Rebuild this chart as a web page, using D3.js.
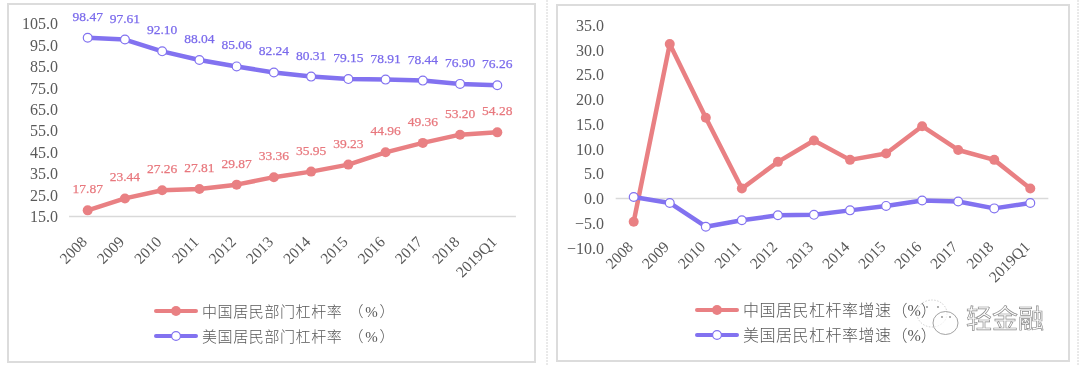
<!DOCTYPE html>
<html>
<head>
<meta charset="utf-8">
<script src="https://cdnjs.cloudflare.com/ajax/libs/d3/7.8.5/d3.min.js"></script>
<style>
html, body { margin: 0; padding: 0; background: #fff; }
svg { display: block; filter: blur(0.35px); }
.serif { font-family: "Liberation Serif", serif; }
.cjk { font-family: "Liberation Serif", "Noto Sans CJK SC", serif; }
</style>
</head>
<body>
<div id="chart"></div>
<script>
const categories = ["2008", "2009", "2010", "2011", "2012", "2013", "2014", "2015", "2016", "2017", "2018", "2019Q1"];

// left panel: leverage
const chinaLeverage = [17.87, 23.44, 27.26, 27.81, 29.87, 33.36, 35.95, 39.23, 44.96, 49.36, 53.20, 54.28];
const usLeverage = [98.47, 97.61, 92.10, 88.04, 85.06, 82.24, 80.31, 79.15, 78.91, 78.44, 76.90, 76.26];
const leverageTicks = [15, 25, 35, 45, 55, 65, 75, 85, 95, 105];

// right panel: growth of leverage
const chinaGrowth = [-4.7, 31.2, 16.3, 2.0, 7.4, 11.7, 7.8, 9.1, 14.6, 9.8, 7.8, 2.0];
const usGrowth = [0.3, -0.9, -5.7, -4.4, -3.4, -3.3, -2.4, -1.5, -0.4, -0.6, -2.0, -0.9];
const growthTicks = [-10, -5, 0, 5, 10, 15, 20, 25, 30, 35];

const legendLeft = ["中国居民部门杠杆率", "美国居民部门杠杆率"];
const legendRight = ["中国居民杠杆率增速", "美国居民杠杆率增速"];
const legendUnit = "（%）";

const RED = "#e98083";
const PURPLE = "#8272f0";
const RED_TEXT = "#e8787e";
const PURPLE_TEXT = "#7a6aec";
const GREY = "#595959";

const svg = d3.select("#chart").append("svg")
    .attr("width", 1080)
    .attr("height", 366);

svg.append("rect").attr("width", 1080).attr("height", 366).attr("fill", "#fff");

// dotted separators between the two pasted pictures
[547, 1078].forEach(function(x) {
    svg.append("line")
        .attr("x1", x).attr("x2", x)
        .attr("y1", 0).attr("y2", 366)
        .attr("stroke", "#d4d4d4")
        .attr("stroke-dasharray", "2,1");
});

function drawPanel(o) {
    const g = svg.append("g");

    g.append("rect")
        .attr("x", o.frame[0]).attr("y", o.frame[1])
        .attr("width", o.frame[2]).attr("height", o.frame[3])
        .attr("fill", "#fff")
        .attr("stroke", "#dcdcdc")
        .attr("stroke-width", 2);

    const x = d3.scalePoint()
        .domain(categories)
        .range(o.xRange);
    const step = x.step();

    const y = d3.scaleLinear()
        .domain(d3.extent(o.ticks))
        .range(o.yRange);

    // y axis, labels only
    const yAxis = d3.axisLeft(y)
        .tickValues(o.ticks)
        .tickFormat(d3.format(".1f"))
        .tickSize(0)
        .tickPadding(0);
    g.append("g")
        .attr("class", "serif")
        .attr("transform", "translate(" + o.yLabelX + ",0)")
        .call(yAxis)
        .call(function(a) { a.select(".domain").remove(); })
        .selectAll("text")
        .attr("fill", GREY)
        .style("font-size", "16px");

    // x axis sits on baseValue, labels hang at a fixed height
    g.append("line")
        .attr("x1", o.xRange[0] - step / 2)
        .attr("x2", o.xRange[1] + step / 2)
        .attr("y1", y(o.baseValue))
        .attr("y2", y(o.baseValue))
        .attr("stroke", "#d9d9d9")
        .attr("stroke-width", 1.5);

    const xAxis = d3.axisBottom(x).tickSize(0).tickPadding(0);
    g.append("g")
        .attr("class", "serif")
        .attr("transform", "translate(0," + o.xLabelY + ")")
        .call(xAxis)
        .call(function(a) { a.select(".domain").remove(); })
        .selectAll("text")
        .attr("fill", GREY)
        .style("font-size", "15.5px")
        .attr("text-anchor", "end")
        .attr("dy", "0.35em")
        .attr("transform", "translate(-4,0) rotate(-45)");

    const line = d3.line()
        .x(function(d, i) { return x(categories[i]); })
        .y(function(d) { return y(d); });

    o.series.forEach(function(s) {
        g.append("path")
            .datum(s.values)
            .attr("d", line)
            .attr("fill", "none")
            .attr("stroke", s.color)
            .attr("stroke-width", 4.5)
            .attr("stroke-linejoin", "round")
            .attr("stroke-linecap", "round");

        g.selectAll(null)
            .data(s.values)
            .enter()
            .append("circle")
            .attr("cx", function(d, i) { return x(categories[i]); })
            .attr("cy", function(d) { return y(d); })
            .attr("r", s.hollow ? 4.4 : 5)
            .attr("fill", s.hollow ? "#fff" : s.color)
            .attr("stroke", s.hollow ? s.color : "none")
            .attr("stroke-width", 1.2);

        if (s.labels) {
            g.selectAll(null)
                .data(s.values)
                .enter()
                .append("text")
                .attr("class", "serif")
                .attr("x", function(d, i) { return x(categories[i]); })
                .attr("y", function(d) { return y(d) - 17; })
                .attr("text-anchor", "middle")
                .attr("fill", s.labelColor)
                .attr("stroke", s.labelColor)
                .attr("stroke-width", 0.25)
                .style("font-size", "13.5px")
                .text(function(d) { return d.toFixed(2); });
        }
    });

    // legend
    o.series.forEach(function(s, i) {
        const ly = o.legendY[i];
        g.append("line")
            .attr("x1", o.legendX[0]).attr("x2", o.legendX[1])
            .attr("y1", ly).attr("y2", ly)
            .attr("stroke", s.color)
            .attr("stroke-width", 4)
            .attr("stroke-linecap", "round");
        g.append("circle")
            .attr("cx", (o.legendX[0] + o.legendX[1]) / 2)
            .attr("cy", ly)
            .attr("r", s.hollow ? 4.4 : 5)
            .attr("fill", s.hollow ? "#fff" : s.color)
            .attr("stroke", s.hollow ? s.color : "none")
            .attr("stroke-width", 1.2);
        const label = g.append("text")
            .attr("class", "cjk")
            .attr("x", o.legendX[1] + 6)
            .attr("y", ly + 5.5)
            .attr("fill", GREY)
            .style("font-size", o.legendSize + "px")
            .style("font-weight", 300)
            .style("letter-spacing", o.legendSpacing + "px")
            .text(o.legend[i]);
        label.append("tspan")
            .attr("dx", o.unitGap)
            .style("letter-spacing", o.unitSpacing + "px")
            .text(legendUnit);
    });
}

drawPanel({
    frame: [8, 4, 527, 358],
    xRange: [87.7, 497.3],
    yRange: [216.5, 23.7],
    ticks: leverageTicks,
    baseValue: 15,
    yLabelX: 58,
    xLabelY: 239,
    series: [
        { values: chinaLeverage, color: RED, labels: true, labelColor: RED_TEXT },
        { values: usLeverage, color: PURPLE, hollow: true, labels: true, labelColor: PURPLE_TEXT }
    ],
    legend: legendLeft,
    legendX: [156, 196],
    legendY: [311, 336],
    legendSize: 15,
    legendSpacing: 0.6,
    unitGap: 6,
    unitSpacing: 1.8
});

drawPanel({
    frame: [557, 5, 512, 356],
    xRange: [633.7, 1030.3],
    yRange: [248, 25.2],
    ticks: growthTicks,
    baseValue: 0,
    yLabelX: 604,
    xLabelY: 244,
    series: [
        { values: chinaGrowth, color: RED },
        { values: usGrowth, color: PURPLE, hollow: true }
    ],
    legend: legendRight,
    legendX: [697, 737],
    legendY: [310, 335],
    legendSize: 16,
    legendSpacing: 0.5,
    unitGap: 0,
    unitSpacing: 0
});

// watermark over the right legend
const mark = svg.append("g")
    .attr("fill", "none")
    .attr("stroke", "#8c8c8c")
    .attr("stroke-width", 0.8);
mark.append("ellipse")
    .attr("cx", 932).attr("cy", 313.5).attr("rx", 15).attr("ry", 13.5)
    .attr("stroke", "#c4c4c4")
    .attr("stroke-dasharray", "1.5,1.5");
mark.append("ellipse")
    .attr("cx", 945.5).attr("cy", 323).attr("rx", 12.5).attr("ry", 11.5)
    .attr("fill", "#fff")
    .attr("fill-opacity", 0.6);
[[927, 307], [938, 307], [942, 317], [950, 317]].forEach(function(p) {
    mark.append("circle")
        .attr("cx", p[0]).attr("cy", p[1])
        .attr("r", 0.9)
        .attr("fill", "#8c8c8c")
        .attr("stroke", "none");
});
mark.append("text")
    .attr("x", 966)
    .attr("y", 328)
    .attr("font-family", "Noto Sans CJK SC")
    .style("font-size", "26px")
    .attr("stroke-width", 0.7)
    .attr("fill", "#fff")
    .text("轻金融");
</script>
</body>
</html>
